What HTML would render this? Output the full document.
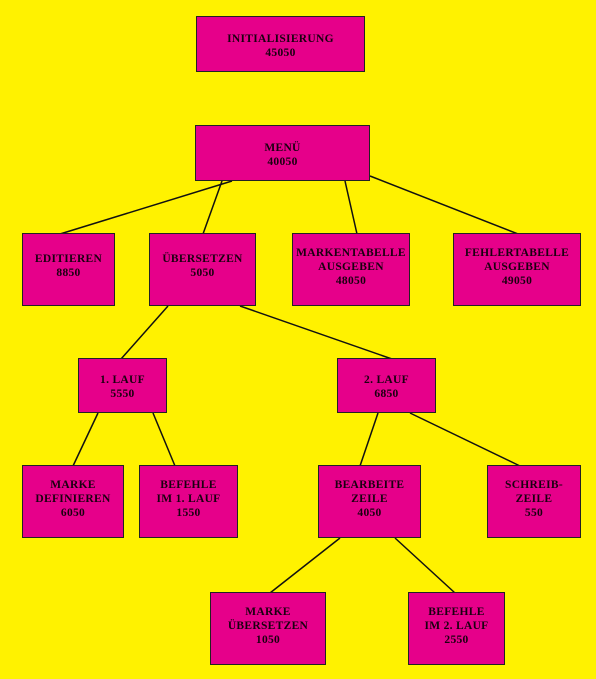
<!DOCTYPE html>
<html><head><meta charset="utf-8"><style>
body{margin:0;width:596px;height:679px;background:#fff200;position:relative;overflow:hidden;font-family:"Liberation Serif",serif;}
.b{position:absolute;background:#e6008a;border:1.5px solid #222;box-sizing:border-box;text-align:center;font-size:11.5px;letter-spacing:0.3px;font-weight:bold;line-height:14px;color:#1a0010;}
svg{position:absolute;left:0;top:0}
</style></head><body>
<svg width="596" height="679"><g stroke="#111" stroke-width="1.5">
<line x1="232" y1="181" x2="60" y2="234"/>
<line x1="222" y1="181" x2="203" y2="234"/>
<line x1="345" y1="181" x2="357" y2="234"/>
<line x1="370" y1="176" x2="518" y2="234"/>
<line x1="168" y1="306" x2="121" y2="359"/>
<line x1="240" y1="306" x2="392" y2="359"/>
<line x1="98" y1="413" x2="73" y2="466"/>
<line x1="153" y1="413" x2="175" y2="466"/>
<line x1="378" y1="413" x2="360" y2="466"/>
<line x1="410" y1="413" x2="520" y2="466"/>
<line x1="340" y1="538" x2="270" y2="593"/>
<line x1="395" y1="538" x2="455" y2="593"/>
</g></svg>
<div class="b" style="left:196px;top:16px;width:169px;height:56px;padding-top:15px">INITIALISIERUNG<br>45050</div>
<div class="b" style="left:195px;top:125px;width:175px;height:56px;padding-top:15px">MENÜ<br>40050</div>
<div class="b" style="left:22px;top:233px;width:93px;height:73px;padding-top:18px">EDITIEREN<br>8850</div>
<div class="b" style="left:149px;top:233px;width:107px;height:73px;padding-top:18px">ÜBERSETZEN<br>5050</div>
<div class="b" style="left:292px;top:233px;width:118px;height:73px;padding-top:12px">MARKENTABELLE<br>AUSGEBEN<br>48050</div>
<div class="b" style="left:453px;top:233px;width:128px;height:73px;padding-top:12px">FEHLERTABELLE<br>AUSGEBEN<br>49050</div>
<div class="b" style="left:78px;top:358px;width:89px;height:55px;padding-top:14px">1. LAUF<br>5550</div>
<div class="b" style="left:337px;top:358px;width:99px;height:55px;padding-top:14px">2. LAUF<br>6850</div>
<div class="b" style="left:22px;top:465px;width:102px;height:73px;padding-top:12px">MARKE<br>DEFINIEREN<br>6050</div>
<div class="b" style="left:139px;top:465px;width:99px;height:73px;padding-top:12px">BEFEHLE<br>IM 1. LAUF<br>1550</div>
<div class="b" style="left:318px;top:465px;width:103px;height:73px;padding-top:12px">BEARBEITE<br>ZEILE<br>4050</div>
<div class="b" style="left:487px;top:465px;width:94px;height:73px;padding-top:12px">SCHREIB-<br>ZEILE<br>550</div>
<div class="b" style="left:210px;top:592px;width:116px;height:73px;padding-top:12px">MARKE<br>ÜBERSETZEN<br>1050</div>
<div class="b" style="left:408px;top:592px;width:97px;height:73px;padding-top:12px">BEFEHLE<br>IM 2. LAUF<br>2550</div>
</body></html>
